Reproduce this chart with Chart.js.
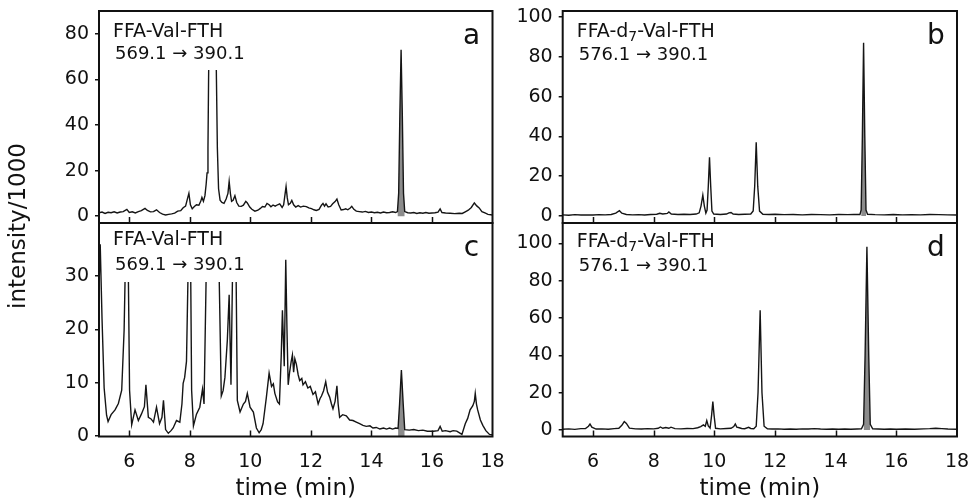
<!DOCTYPE html>
<html>
<head>
<meta charset="utf-8">
<script src="https://cdn.jsdelivr.net/npm/chart.js@4.4.1/dist/chart.umd.min.js"></script>
<style>
  html, body { margin: 0; padding: 0; background: #fff; }
  #wrap { position: relative; width: 970px; height: 504px; overflow: hidden; }
  #wrap canvas { position: absolute; }
  #ytitle {
    position: absolute; left: 17px; top: 226px;
    transform: translate(-50%, -50%) rotate(-90deg);
    font: 23px "DejaVu Sans"; color: #111; white-space: nowrap;
  }
</style>
</head>
<body>
<div id="wrap">
  <canvas id="chart-a" width="500" height="230" style="left:0;top:0"></canvas>
  <canvas id="chart-b" width="490" height="230" style="left:480px;top:0"></canvas>
  <canvas id="chart-c" width="520" height="288" style="left:0;top:216px"></canvas>
  <canvas id="chart-d" width="490" height="288" style="left:480px;top:216px"></canvas>
  <div id="ytitle">intensity/1000</div>
</div>
<script>
// shared axes
const xTicks = [6, 8, 10, 12, 14, 16, 18];
const yTicksA = [0, 20, 40, 60, 80];
const yTicksB = [0, 20, 40, 60, 80, 100];
const yTicksC = [0, 10, 20, 30];
const yTicksD = [0, 20, 40, 60, 80, 100];

// labels (second item of a piece = subscript)
const analyteA = [['FFA-Val-FTH', false]];
const analyteB = [['FFA-d', false], ['7', true], ['-Val-FTH', false]];
const transitionA = '569.1 \u2192 390.1';
const transitionB = '576.1 \u2192 390.1';

// a: FFA-Val-FTH, sample 1
const timeA = [5.00, 5.10, 5.20, 5.30, 5.40, 5.50, 5.60, 5.70, 5.80, 5.92,
  6.00, 6.10, 6.20, 6.30, 6.40, 6.52, 6.60, 6.70, 6.80, 6.90,
  7.00, 7.10, 7.20, 7.30, 7.40, 7.50, 7.60, 7.70, 7.78, 7.86,
  7.93, 7.97, 8.02, 8.08, 8.15, 8.22, 8.30, 8.36, 8.40, 8.45,
  8.50, 8.54, 8.57, 8.60, 8.62, 8.70, 8.80, 8.88, 8.91, 8.95,
  9.00, 9.06, 9.13, 9.20, 9.26, 9.30, 9.34, 9.38, 9.43, 9.49,
  9.55, 9.62, 9.70, 9.77, 9.85, 9.90, 9.98, 10.05, 10.15, 10.25,
  10.33, 10.40, 10.48, 10.55, 10.62, 10.68, 10.75, 10.82, 10.90, 10.97,
  11.05, 11.10, 11.15, 11.18, 11.22, 11.26, 11.32, 11.37, 11.43, 11.50,
  11.58, 11.66, 11.75, 11.85, 11.93, 12.02, 12.10, 12.18, 12.27, 12.35,
  12.40, 12.45, 12.50, 12.57, 12.65, 12.72, 12.80, 12.86, 12.92, 13.00,
  13.08, 13.15, 13.22, 13.30, 13.35, 13.42, 13.50, 13.60, 13.70, 13.80,
  13.90, 14.00, 14.10, 14.20, 14.30, 14.40, 14.50, 14.60, 14.70, 14.80,
  14.86, 14.90, 14.94, 14.98, 15.02, 15.06, 15.10, 15.20, 15.30, 15.40,
  15.50, 15.60, 15.70, 15.80, 15.90, 16.00, 16.10, 16.20, 16.27, 16.33,
  16.45, 16.60, 16.75, 16.90, 17.00, 17.10, 17.20, 17.30, 17.40, 17.48,
  17.56, 17.65, 17.75, 17.85, 18.00];
const intensityA = [1.5, 1.8, 1.2, 1.7, 1.5, 1.9, 1.4, 1.8, 2.0, 3.0,
  1.6, 1.9, 1.4, 2.0, 2.4, 3.4, 2.5, 1.9, 2.0, 2.8,
  1.6, 0.9, 0.5, 0.8, 1.0, 1.3, 2.2, 2.4, 3.7, 4.4,
  8.0, 10.0, 5.0, 3.2, 4.2, 5.0, 4.8, 6.5, 8.2, 6.5,
  9.0, 14, 19, 30, 60, 150, 150, 60, 30, 12,
  7.0, 6.0, 5.6, 7.5, 10, 15.2, 10, 6.5, 7.0, 9.0,
  6.0, 4.4, 4.3, 4.8, 6.5, 5.8, 4.0, 3.0, 2.2, 2.6,
  3.4, 4.2, 4.0, 5.6, 5.0, 4.1, 4.9, 4.4, 5.0, 5.4,
  3.8, 5.0, 10, 13, 8, 5.0, 5.6, 6.9, 5.0, 4.0,
  4.6, 4.0, 4.4, 4.2, 3.6, 3.3, 2.8, 2.5, 3.0, 4.8,
  5.6, 4.4, 5.4, 4.0, 4.3, 5.4, 6.4, 7.5, 5.0, 2.7,
  2.9, 3.2, 2.8, 3.6, 4.3, 3.0, 2.2, 2.0, 1.8, 2.1,
  1.6, 1.8, 1.5, 1.7, 1.4, 1.8, 1.5, 1.6, 1.9, 1.6,
  2.0, 10, 45, 73, 45, 10, 2.0, 1.5, 1.4, 1.6,
  1.2, 1.5, 1.3, 1.6, 1.3, 1.4, 1.5, 1.8, 3.2, 1.6,
  1.4, 1.3, 1.1, 1.3, 1.2, 1.9, 2.6, 3.8, 5.8, 4.5,
  3.6, 2.0, 1.4, 0.8, 0.5];

// b: FFA-d7-Val-FTH, sample 1
const timeB = [5.0, 5.2, 5.4, 5.6, 5.8, 6.0, 6.2, 6.4, 6.6, 6.75,
  6.87, 6.95, 7.1, 7.3, 7.5, 7.7, 7.9, 8.1, 8.2, 8.3,
  8.45, 8.5, 8.58, 8.8, 9.0, 9.2, 9.4, 9.5, 9.56, 9.62,
  9.67, 9.72, 9.76, 9.8, 9.84, 9.88, 9.92, 9.98, 10.2, 10.4,
  10.48, 10.55, 10.62, 10.8, 11.0, 11.2, 11.28, 11.33, 11.38, 11.43,
  11.49, 11.6, 11.8, 12.0, 12.3, 12.6, 12.9, 13.2, 13.5, 13.8,
  14.1, 14.4, 14.6, 14.8, 14.84, 14.88, 14.92, 14.96, 15.0, 15.05,
  15.3, 15.6, 15.9, 16.2, 16.5, 16.8, 17.1, 17.4, 17.7, 18.0];
const intensityB = [0.6, 0.4, 0.7, 0.5, 0.6, 0.5, 0.7, 0.6, 0.8, 1.5,
  2.7, 1.4, 0.8, 0.6, 0.7, 0.5, 0.8, 0.9, 1.4, 1.0,
  1.3, 2.0, 1.0, 0.8, 0.9, 0.8, 1.0, 1.6, 5.0, 10.5,
  5.0, 1.5, 3.0, 15, 29.5, 15, 2.5, 1.0, 0.8, 1.0,
  1.6, 1.8, 1.0, 0.8, 0.9, 1.0, 2.5, 15, 37, 15,
  2.5, 0.9, 0.8, 0.9, 0.7, 0.8, 0.6, 0.8, 0.7, 0.6,
  0.8, 0.7, 0.8, 0.8, 3.0, 40, 87, 40, 3.0, 0.9,
  0.7, 0.6, 0.8, 0.6, 0.7, 0.6, 0.8, 0.7, 0.6, 0.5];

// c: FFA-Val-FTH, sample 2
const timeC = [5.00, 5.04, 5.10, 5.17, 5.25, 5.30, 5.40, 5.53, 5.64, 5.75,
  5.83, 5.87, 5.92, 5.97, 6.01, 6.08, 6.19, 6.30, 6.40, 6.50,
  6.55, 6.63, 6.72, 6.80, 6.90, 7.00, 7.08, 7.13, 7.20, 7.29,
  7.38, 7.45, 7.56, 7.67, 7.74, 7.78, 7.83, 7.89, 7.94, 7.99,
  8.03, 8.06, 8.12, 8.22, 8.33, 8.42, 8.47, 8.54, 8.62, 8.75,
  8.90, 8.97, 9.04, 9.10, 9.16, 9.24, 9.30, 9.36, 9.41, 9.47,
  9.53, 9.57, 9.66, 9.77, 9.84, 9.90, 9.99, 10.10, 10.20, 10.29,
  10.36, 10.42, 10.53, 10.62, 10.70, 10.76, 10.81, 10.90, 10.96, 11.02,
  11.06, 11.12, 11.17, 11.21, 11.25, 11.30, 11.35, 11.39, 11.43, 11.47,
  11.52, 11.58, 11.63, 11.70, 11.74, 11.82, 11.90, 11.98, 12.07, 12.15,
  12.24, 12.30, 12.35, 12.42, 12.49, 12.55, 12.62, 12.68, 12.73, 12.80,
  12.86, 12.90, 12.95, 13.05, 13.17, 13.28, 13.39, 13.50, 13.61, 13.72,
  13.83, 13.95, 14.05, 14.16, 14.28, 14.40, 14.50, 14.60, 14.70, 14.80,
  14.88, 14.93, 14.99, 15.05, 15.10, 15.25, 15.40, 15.55, 15.70, 15.85,
  16.05, 16.20, 16.27, 16.34, 16.45, 16.60, 16.70, 16.82, 16.99, 17.10,
  17.18, 17.26, 17.35, 17.40, 17.43, 17.47, 17.51, 17.60, 17.68, 17.78,
  17.90, 18.00];
const intensityC = [28, 36, 22, 9, 3.9, 2.7, 4.0, 4.9, 6.1, 8.6,
  19.9, 32, 50, 30, 8.6, 2.1, 4.9, 2.9, 4.1, 5.5,
  9.6, 3.5, 3.2, 2.6, 5.4, 2.3, 3.5, 6.7, 1.2, 0.5,
  1.0, 1.5, 2.9, 2.6, 6.0, 9.9, 11, 14, 30, 45,
  30, 8.6, 1.9, 4.1, 5.4, 8.8, 6.0, 30, 120, 300,
  120, 30, 7.5, 8.5, 11, 18, 26.5, 9.6, 30, 45,
  30, 6.7, 4.5, 6.0, 6.5, 8.0, 5.4, 4.5, 1.5, 0.6,
  1.2, 2.3, 7.3, 11.8, 9.3, 9.8, 8.0, 6.4, 6.0, 15,
  23.6, 13.1, 33.1, 20, 9.6, 12.1, 14, 15.2, 12, 14.5,
  13.5, 11.5, 10.4, 10.8, 9.6, 10.2, 9.0, 9.3, 7.8, 8.3,
  6.0, 7.0, 7.5, 8.5, 10.2, 8.2, 7.3, 6.0, 5.1, 6.5,
  9.4, 6.0, 3.5, 4.0, 3.8, 3.0, 2.9, 2.6, 2.3, 2.0,
  1.8, 1.9, 1.5, 1.6, 1.3, 1.5, 1.3, 1.5, 1.3, 1.5,
  1.4, 6, 12.4, 6, 1.2, 1.1, 1.2, 1.0, 1.1, 0.9,
  0.9, 1.0, 1.8, 0.9, 1.0, 0.8, 1.0, 0.9, 0.3, 2.3,
  3.3, 4.9, 5.7, 6.5, 8.0, 6.0, 4.9, 3.0, 2.0, 1.0,
  0.3, 0.2];

// d: FFA-d7-Val-FTH, sample 2
const timeD = [5.0, 5.2, 5.4, 5.6, 5.75, 5.85, 5.9, 5.96, 6.1, 6.3,
  6.5, 6.7, 6.85, 6.95, 7.03, 7.1, 7.2, 7.4, 7.6, 7.8,
  8.0, 8.15, 8.22, 8.3, 8.4, 8.5, 8.57, 8.7, 8.9, 9.1,
  9.3, 9.45, 9.55, 9.64, 9.7, 9.75, 9.8, 9.86, 9.91, 9.95,
  9.99, 10.04, 10.2, 10.4, 10.55, 10.64, 10.69, 10.74, 10.82, 10.9,
  11.0, 11.13, 11.2, 11.3, 11.38, 11.44, 11.51, 11.57, 11.64, 11.75,
  11.9, 12.1, 12.3, 12.5, 12.7, 12.9, 13.1, 13.3, 13.5, 13.7,
  13.9, 14.1, 14.3, 14.5, 14.7, 14.85, 14.92, 14.97, 15.03, 15.09,
  15.14, 15.22, 15.4, 15.6, 15.8, 16.0, 16.3, 16.6, 16.9, 17.1,
  17.3, 17.5, 17.7, 18.0];
const intensityD = [0.4, 0.6, 0.3, 0.7, 0.8, 2.0, 3.2, 1.5, 0.5, 0.6,
  0.4, 0.7, 0.9, 2.5, 4.5, 3.5, 1.0, 0.6, 0.5, 0.7,
  0.6, 0.9, 1.6, 0.9, 1.3, 0.9, 1.5, 0.7, 0.6, 0.8,
  0.7, 1.2, 1.8, 2.7, 2.0, 5.0, 2.2, 1.0, 8, 15.2,
  8, 0.9, 0.6, 0.8, 0.9, 1.8, 3.2, 1.5, 1.2, 0.8,
  0.7, 1.4, 0.8, 0.7, 2.0, 20, 64.2, 20, 2.0, 0.6,
  0.5, 0.6, 0.4, 0.5, 0.4, 0.6, 0.5, 0.7, 0.5, 0.4,
  0.5, 0.4, 0.5, 0.4, 0.5, 0.6, 3.0, 40, 98.2, 40,
  3.0, 0.6, 0.5, 0.4, 0.5, 0.4, 0.5, 0.4, 0.6, 0.7,
  0.9, 0.7, 0.5, 0.4];

const FONT = '"DejaVu Sans"';
Chart.defaults.font.family = FONT;
Chart.defaults.color = '#111';

// frame, inward x ticks, annotation box and panel letter
const panelFrame = {
  id: 'panelFrame',
  afterDatasetsDraw(chart, args, opts) {
    const { ctx, chartArea: ca } = chart;
    ctx.save();
    ctx.textBaseline = 'middle';
    ctx.textAlign = 'left';
    // measure to size the white box behind the label
    let w1 = 0;
    opts.analyte.forEach(([t, sub]) => {
      ctx.font = (sub ? '14px ' : '19px ') + FONT;
      w1 += ctx.measureText(t).width;
    });
    ctx.font = '18px ' + FONT;
    const w2 = ctx.measureText(opts.transition).width;
    const boxLeft = ca.left + 7;
    const boxRight = ca.left + 16 + Math.max(w1, w2) + 6;
    ctx.fillStyle = '#fff';
    ctx.fillRect(boxLeft, ca.top + 1, boxRight - boxLeft, 58);

    ctx.fillStyle = '#111';
    let x = ca.left + 14;
    opts.analyte.forEach(([t, sub]) => {
      ctx.font = (sub ? '14px ' : '19px ') + FONT;
      ctx.fillText(t, x, ca.top + opts.line1 + (sub ? 5 : 0));
      x += ctx.measureText(t).width;
    });
    ctx.font = '18px ' + FONT;
    ctx.fillText(opts.transition, ca.left + 16, ca.top + opts.line2);

    ctx.font = '28px ' + FONT;
    ctx.textAlign = 'center';
    ctx.fillText(opts.letter, ca.right - 21, ca.top + 26);
    ctx.restore();
  },
  afterDraw(chart) {
    const { ctx, chartArea: ca, scales } = chart;
    ctx.save();
    ctx.strokeStyle = '#111';
    ctx.lineWidth = 1.5;
    ctx.beginPath();
    xTicks.forEach((v) => {
      if (v <= scales.x.min || v >= scales.x.max) return;
      const px = Math.round(scales.x.getPixelForValue(v)) + 0.5;
      ctx.moveTo(px, ca.bottom);
      ctx.lineTo(px, ca.bottom - 6);
    });
    ctx.stroke();
    ctx.lineWidth = 2;
    ctx.strokeRect(ca.left, ca.top, ca.right - ca.left, ca.bottom - ca.top);
    ctx.restore();
  },
};

function noPadding(s) {
  s.paddingTop = 0;
  s.paddingBottom = 0;
  s.paddingLeft = 0;
  s.paddingRight = 0;
}

function makePanel(id, cfg) {
  const points = cfg.time.map((t, i) => ({ x: t, y: cfg.values[i] }));
  const peak = points.filter((p) => p.x >= cfg.peak[0] && p.x <= cfg.peak[1]);
  const tickFont = { size: 19, family: FONT };
  return new Chart(document.getElementById(id), {
    type: 'line',
    data: {
      datasets: [
        { data: points, borderColor: '#151515', borderWidth: 1.4, pointRadius: 0, fill: false },
        { data: peak, borderWidth: 0, pointRadius: 0, backgroundColor: '#8c8c8c', fill: 'origin' },
      ],
    },
    options: {
      responsive: false,
      animation: false,
      events: [],
      layout: { padding: cfg.padding },
      plugins: {
        legend: { display: false },
        tooltip: { enabled: false },
        panelFrame: cfg.label,
      },
      scales: {
        x: {
          type: 'linear',
          min: 5,
          max: 18,
          afterBuildTicks: (s) => { s.ticks = xTicks.map((v) => ({ value: v })); },
          afterFit: (s) => { s.height = cfg.xHeight; noPadding(s); },
          grid: { display: false },
          border: { display: false },
          ticks: { display: cfg.showX, font: tickFont, padding: 6, autoSkip: false, maxRotation: 0 },
          title: {
            display: cfg.showX,
            text: 'time (min)',
            font: { size: 23, family: FONT },
            padding: { top: 0, bottom: 1 },
          },
        },
        y: {
          min: cfg.yMin,
          max: cfg.yMax,
          afterBuildTicks: (s) => { s.ticks = cfg.yTicks.map((v) => ({ value: v })); },
          afterFit: (s) => { s.width = cfg.yWidth; noPadding(s); },
          grid: { drawOnChartArea: false, drawTicks: true, tickLength: 4, color: '#111', lineWidth: 1.5 },
          border: { display: false },
          ticks: { font: tickFont, padding: 6 },
        },
      },
    },
    plugins: [panelFrame],
  });
}

makePanel('chart-a', {
  time: timeA, values: intensityA, peak: [14.86, 15.10],
  yMin: -3, yMax: 90, yTicks: yTicksA, yWidth: 99, xHeight: 7, showX: false,
  padding: { left: 0, right: 7.5, top: 11, bottom: 0 },
  label: { analyte: analyteA, transition: transitionA, letter: 'a', line1: 21, line2: 43 },
});
makePanel('chart-b', {
  time: timeB, values: intensityB, peak: [14.84, 15.0],
  yMin: -3.5, yMax: 103, yTicks: yTicksB, yWidth: 82.7, xHeight: 7, showX: false,
  padding: { left: 0, right: 13, top: 11, bottom: 0 },
  label: { analyte: analyteB, transition: transitionB, letter: 'b', line1: 21, line2: 44 },
});
makePanel('chart-c', {
  time: timeC, values: intensityC, peak: [14.88, 15.10],
  yMin: -0.1, yMax: 40, yTicks: yTicksC, yWidth: 99, xHeight: 67.5, showX: true,
  padding: { left: 0, right: 27.5, top: 7, bottom: 0 },
  label: { analyte: analyteA, transition: transitionA, letter: 'c', line1: 17, line2: 42 },
});
makePanel('chart-d', {
  time: timeD, values: intensityD, peak: [14.92, 15.14],
  yMin: -3.5, yMax: 111, yTicks: yTicksD, yWidth: 82.7, xHeight: 67.5, showX: true,
  padding: { left: 0, right: 13, top: 7, bottom: 0 },
  label: { analyte: analyteB, transition: transitionB, letter: 'd', line1: 19, line2: 43 },
});
</script>
</body>
</html>
